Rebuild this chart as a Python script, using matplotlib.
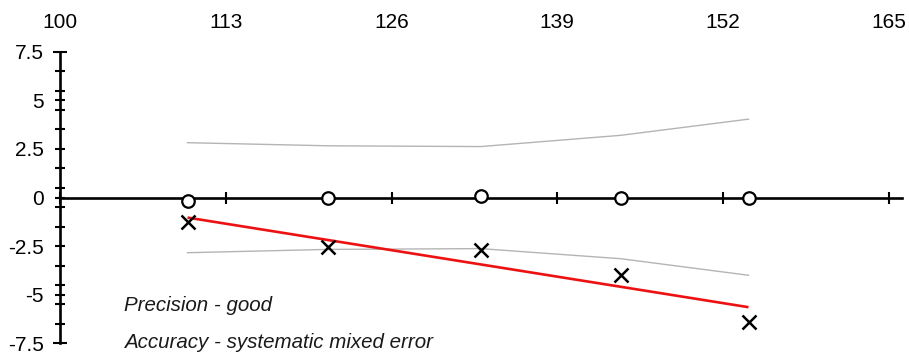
import numpy as np
import matplotlib
matplotlib.use("Agg")
import matplotlib.pyplot as plt

plt.rcParams['font.family'] = ['Liberation Sans', 'DejaVu Sans']

# ---- data ----
x_vals = [110, 121, 133, 144, 154]
precision_y = [-0.2, -0.05, 0.1, -0.05, 0.0]
accuracy_y = [-1.25, -2.55, -2.7, -4.0, -6.4]
upper_limit = [2.82, 2.66, 2.62, 3.2, 4.03]
lower_limit = [-2.84, -2.67, -2.63, -3.15, -4.0]
x_ticks = [100, 113, 126, 139, 152, 165]
y_major = [-7.5, -5, -2.5, 0, 2.5, 5, 7.5]
y_labels = ['-7.5', '-5', '-2.5', '0', '2.5', '5', '7.5']
y_minor = [-6.5, -5.5, -4.5, -3.5, -1.5, -0.5, 0.5, 1.5, 3.5, 4.5, 5.5, 6.5]
notes = ["Precision - good", "Accuracy - systematic mixed error"]

W, H = 909, 358
fig = plt.figure(figsize=(W / 100, H / 100), dpi=100)
left_px, right_px, top_px, bot_px = 60, 901.5, 51.7, 343.3
ax = fig.add_axes([left_px / W, 1 - bot_px / H, (right_px - left_px) / W, (bot_px - top_px) / H])
ax.set_xlim(100, 166)
ax.set_ylim(-7.5, 7.5)
ax.patch.set_alpha(0)

for s in ['top', 'right']:
    ax.spines[s].set_visible(False)
ax.spines['bottom'].set_position(('data', 0))
ax.spines['left'].set_linewidth(1.9)
ax.spines['bottom'].set_linewidth(1.9)

# x ticks: marks on the zero line, labels at top
ax.set_xticks(x_ticks)
ax.set_xticklabels([str(v) for v in x_ticks])
ax.tick_params(axis='x', which='major', direction='inout', length=9, width=1.5,
               bottom=True, top=False, labelbottom=False, labeltop=True,
               labelsize=15, pad=9.5, colors='black')

# y ticks
ax.set_yticks(y_major)
ax.set_yticklabels(y_labels)
ax.set_yticks(y_minor, minor=True)
ax.tick_params(axis='y', which='both', direction='inout', length=7.2, width=1.5,
               labelsize=15, pad=8, colors='black')
for t in ax.yaxis.get_major_ticks():
    if abs(t.get_loc()) == 7.5:
        t.tick1line.set_markersize(10.5)

# envelope lines
ax.plot(x_vals, upper_limit, color='#b4b4b4', lw=1.0, zorder=2)
ax.plot(x_vals, lower_limit, color='#b4b4b4', lw=1.0, zorder=2)

# regression line through accuracy points
coef = np.polyfit(x_vals, accuracy_y, 1)
xr = np.array([x_vals[0], x_vals[-1]])
ax.plot(xr, np.polyval(coef, xr), color='#ee1111', lw=1.9, zorder=3, solid_capstyle='butt')

# markers
ax.plot(x_vals, precision_y, linestyle='none', marker='o', markersize=9,
        markerfacecolor='white', markeredgecolor='black', markeredgewidth=1.6,
        zorder=5, clip_on=False)
ax.plot(x_vals, accuracy_y, linestyle='none', marker='x', markersize=9.5,
        color='black', markeredgewidth=1.8, zorder=5, clip_on=False)

# notes
ax.text(105, -5.53, notes[0], fontsize=14.8, style='italic', color='#1a1a1a',
        va='center', ha='left')
ax.text(105, -7.48, notes[1], fontsize=14.8, style='italic', color='#1a1a1a',
        va='center', ha='left', clip_on=False)

fig.savefig('out.png', dpi=100)
